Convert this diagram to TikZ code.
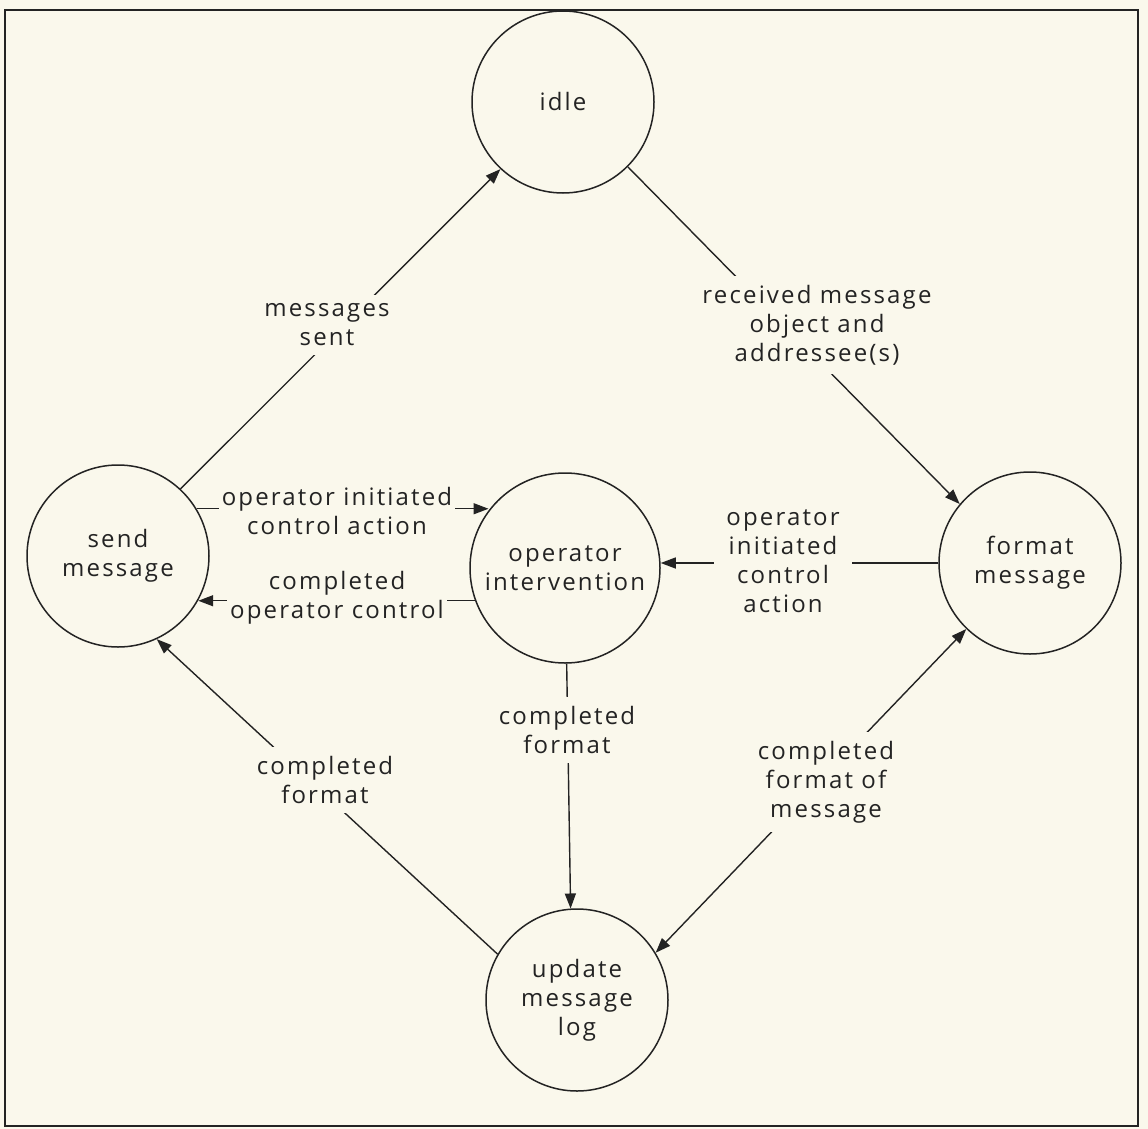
\documentclass[tikz,border=0pt]{standalone}
\usepackage{fontspec}
\setmainfont{Open Sans}[LetterSpace=9]
\usetikzlibrary{arrows.meta}
\definecolor{bg}{RGB}{250,248,236}
\definecolor{ink}{RGB}{35,35,35}
\begin{document}
\begin{tikzpicture}[x=1pt,y=-1pt,
  txt/.style={font=\fontsize{24}{29}\selectfont,text=ink,align=center},
  state/.style={txt,circle,draw=ink,line width=1.5pt,minimum size=182pt,inner sep=0pt},
  lbl/.style={txt,fill=bg,inner xsep=3pt,inner ysep=9pt},
  conn/.style={draw=ink,line width=1.4pt},
  tip/.style={-{Triangle[length=15pt,width=11pt]}},
  tips/.style={{Triangle[length=15pt,width=11pt]}-{Triangle[length=15pt,width=11pt]}},
]
\fill[bg] (0,0) rectangle (1148,1129);
\draw[ink,line width=2.6pt] (5,10) rectangle (1138,1126);

\node[state] (idle) at (563,102) {idle};
\node[state] (send) at (118,556) {send\\message};
\node[state,minimum size=190pt] (op) at (565,568) {operator\\intervention};
\node[state] (fmt) at (1030,563) {format\\message};
\node[state] (upd) at (577,1000) {update\\message\\log};

\draw[conn,tip] (send.47) -- (idle.227);
\draw[conn,tip] (idle.315) -- (fmt.140);
\draw[conn,tips] (fmt.226) -- (upd.31);
\draw[conn,tip] (upd.150) -- (send.-65);
\draw[conn,tip] (op.-89) -- (upd.94);
\draw[conn,tip] (fmt.west) -- (op.east |- fmt.west);
\draw[conn,tip] (send.31) -- (op.143 |- send.31);
\draw[conn,tip] (op.200) -- (send.-29 |- op.200);

\node[lbl] (l1) at (327,325) {messages\\sent};
\node[lbl] (l2) at (817,325) {received message\\object and\\addressee(s)};
\node[lbl] (l3) at (826,782) {completed\\format of\\message};
\node[lbl] (l4) at (325,780) {completed\\format};
\node[lbl] (l5) at (567,730) {completed\\format};
\node[lbl,inner xsep=12pt] (l6) at (783,561) {operator\\initiated\\control\\action};
\node[lbl] (l7) at (337,511) {operator initiated\\control action};
\node[lbl] (l8) at (337,598) {completed\\operator control};
\end{tikzpicture}
\end{document}
